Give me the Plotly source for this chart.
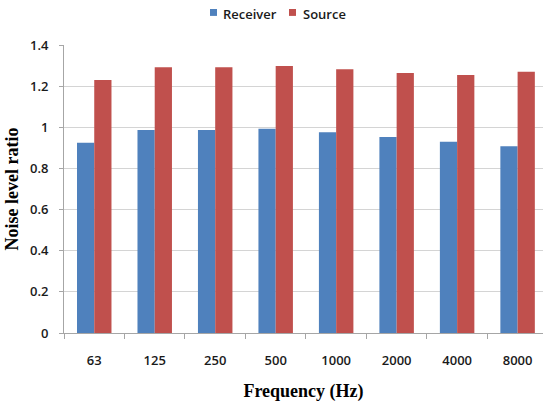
import plotly.graph_objects as go

# Octave-band centre frequencies (Hz)
frequencies = ["63", "125", "250", "500", "1000", "2000", "4000", "8000"]

# Noise level ratio per band
receiver = [0.925, 0.987, 0.987, 0.993, 0.976, 0.953, 0.930, 0.908]
source = [1.230, 1.292, 1.292, 1.298, 1.282, 1.264, 1.254, 1.270]

series_names = ["Receiver", "Source"]

y_ticks = [0, 0.2, 0.4, 0.6, 0.8, 1.0, 1.2, 1.4]
y_tick_text = ["0", "0.2", "0.4", "0.6", "0.8", "1", "1.2", "1.4"]

BLUE = "#4F81BD"
RED = "#C0504D"

tick_font = dict(family="Open Sans, Liberation Sans, sans-serif", size=13, color="#1a1a1a", weight=600)
title_font = dict(family="Liberation Serif, Times New Roman, serif", size=18, color="#000000", weight="bold")

fig = go.Figure()
fig.add_trace(go.Bar(x=frequencies, y=receiver, name=series_names[0], marker=dict(color=BLUE, line=dict(width=0))))
fig.add_trace(go.Bar(x=frequencies, y=source, name=series_names[1], marker=dict(color=RED, line=dict(width=0))))

# Compact legend above the plot: small colour squares with labels beside them
legend_items = [
    (series_names[0], BLUE, 0.3048, 0.3299),
    (series_names[1], RED, 0.4697, 0.4969),
]
for name, color, sq_x, txt_x in legend_items:
    fig.add_shape(
        type="rect", xref="paper", yref="paper",
        x0=sq_x, x1=sq_x + 0.0146, y0=1.101, y1=1.125,
        fillcolor=color, line=dict(width=0),
    )
    fig.add_annotation(
        text=name, xref="paper", yref="paper",
        x=txt_x, y=1.106, xanchor="left", yanchor="middle",
        showarrow=False, borderpad=0,
        font=dict(family="Open Sans, Liberation Sans, sans-serif", size=13, color="#1a1a1a", weight=600),
    )

fig.update_layout(
    width=543,
    height=402,
    margin=dict(l=64, r=0, t=45, b=69),
    paper_bgcolor="white",
    plot_bgcolor="white",
    barmode="group",
    bargap=0.43,
    bargroupgap=0,
    showlegend=False,
    xaxis=dict(
        type="category",
        range=[-0.5, 7.42],
        showgrid=False,
        showline=True,
        linecolor="#A6A6A6",
        linewidth=1,
        ticks="outside",
        tickson="boundaries",
        ticklen=5,
        tickcolor="#A6A6A6",
        tickfont=tick_font,
        ticklabelstandoff=15,
        title=dict(text="Frequency (Hz)", font=title_font, standoff=19),
    ),
    yaxis=dict(
        range=[0, 1.4],
        tickvals=y_ticks,
        ticktext=y_tick_text,
        showgrid=True,
        gridcolor="#D4D4D4",
        gridwidth=1,
        zeroline=False,
        showline=True,
        linecolor="#A6A6A6",
        linewidth=1,
        ticks="outside",
        ticklen=4,
        tickcolor="#A6A6A6",
        tickfont=tick_font,
        ticklabelstandoff=8,
        title=dict(text="Noise level ratio", font=title_font, standoff=6),
    ),
)

fig.write_html("out.html")
